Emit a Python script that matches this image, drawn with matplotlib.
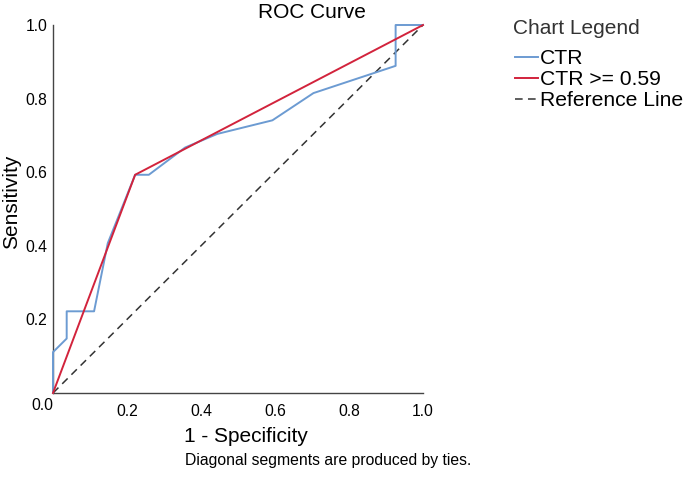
import matplotlib
matplotlib.use("Agg")
import matplotlib.pyplot as plt

plt.rcParams['font.family'] = ['Liberation Sans', 'DejaVu Sans']

# ROC points (1 - specificity, sensitivity)
ctr_fpr = [0.0, 0.0, 0.037, 0.037, 0.111, 0.148, 0.222, 0.259, 0.357, 0.444, 0.593, 0.704, 0.926, 0.926, 1.0]
ctr_tpr = [0.0, 0.111, 0.148, 0.222, 0.222, 0.407, 0.593, 0.593, 0.667, 0.704, 0.741, 0.815, 0.889, 1.0, 1.0]
cut_fpr = [0.0, 0.222, 1.0]
cut_tpr = [0.0, 0.593, 1.0]
ref_x = [0.0, 1.0]
ref_y = [0.0, 1.0]
xticks = [0.2, 0.4, 0.6, 0.8, 1.0]
yticks = [0.2, 0.4, 0.6, 0.8, 1.0]

fig = plt.figure(figsize=(6.85, 4.82), dpi=100)
ax = fig.add_axes([53/685, 1 - 393/482, 370/685, 368/482])

ax.plot(ctr_fpr, ctr_tpr, color="#6C9BD2", lw=1.4, label="CTR", clip_on=False, zorder=3)
ax.plot(cut_fpr, cut_tpr, color="#D2233C", lw=1.4, label="CTR >= 0.59", clip_on=False, zorder=4)
ax.plot(ref_x, ref_y, color="#333333", lw=1.1, ls=(0, (5, 3.5)), label="Reference Line", clip_on=False, zorder=2)

ax.set_xlim(0, 1)
ax.set_ylim(0, 1)
for s in ["top", "right"]:
    ax.spines[s].set_visible(False)
for s in ["left", "bottom"]:
    ax.spines[s].set_color("#444444")
    ax.spines[s].set_linewidth(1.0)

ax.set_xticks(xticks)
ax.set_yticks(yticks)
ax.set_xticklabels(["%.1f" % v for v in xticks])
ax.set_yticklabels(["%.1f" % v for v in yticks])
ax.tick_params(axis="x", length=0, pad=8, labelsize=11.3)
ax.tick_params(axis="y", length=0, pad=4, labelsize=11.3)
fig.text(42/685, 1 - 405/482, "0.0", fontsize=11.3, ha="center", va="center")

fig.text(246/685, 1 - 437/482, "1 - Specificity", fontsize=15, ha="center", va="center")
fig.text(185/685, 1 - 460/482, "Diagonal segments are produced by ties.", fontsize=11.3, ha="left", va="center")
fig.text(12/685, 1 - 202/482, "Sensitivity", fontsize=15, rotation=90, ha="center", va="center")
fig.text(312/685, 1 - 13/482, "ROC Curve", fontsize=15, ha="center", va="center")

# legend title drawn apart so the gap to the entries matches
fig.text(513/685, 1 - 28/482, "Chart Legend", fontsize=15, color="#333333", ha="left", va="center")
ax.legend(loc="upper left", bbox_to_anchor=(515/685, 1 - 49/482), bbox_transform=fig.transFigure,
          frameon=False, fontsize=15.2, handlelength=1.1, handletextpad=0.1, labelspacing=0.1,
          borderpad=0, borderaxespad=0)

fig.savefig("out.png", dpi=100)
